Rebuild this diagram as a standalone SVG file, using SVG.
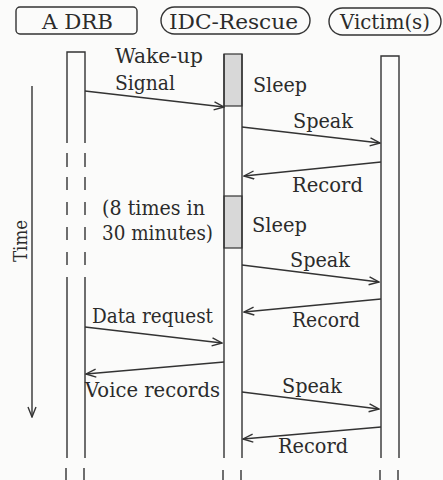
<svg xmlns="http://www.w3.org/2000/svg" width="443" height="480" viewBox="0 0 443 480">
<style>
.t{font-family:"DejaVu Serif","Liberation Serif",serif;font-size:20px;fill:#2b2b2b}
.h{font-family:"DejaVu Serif","Liberation Serif",serif;font-size:21px;fill:#2b2b2b}
.b{fill:none;stroke:#333;stroke-width:1.4}
.l{stroke:#333;stroke-width:1.4;fill:none}
.d{stroke:#333;stroke-width:1.4;fill:none;stroke-dasharray:13 11}
.s{fill:#d8d8d8;stroke:#333;stroke-width:1.2}
.m{stroke:#333;stroke-width:1.4;fill:none;marker-end:url(#ah)}
</style>
<defs>
<marker id="ah" markerUnits="userSpaceOnUse" markerWidth="12" markerHeight="10" refX="11" refY="4.5" orient="auto">
<path d="M1,0.5 L11,4.5 L1,8.5" fill="none" stroke="#333" stroke-width="1.4"/>
</marker>
</defs>
<rect width="443" height="480" fill="#fbfbfa"/>

<g id="adrb">
<rect class="b" x="16" y="7" width="121" height="27" rx="4"/>
<text class="h" x="42" y="29" textLength="71" lengthAdjust="spacingAndGlyphs">A DRB</text>
<path class="l" d="M67,143 V52 H85 V143 M67,277 V458 M85,277 V458"/>
<path class="l" d="M67,153 v14 M67,177 v13 M67,202 v13 M67,227 v13 M67,252 v13 M85,153 v14 M85,177 v13 M85,202 v13 M85,227 v13 M85,252 v13"/>
<path class="l" d="M66,468 v12 M84,468 v12"/>
</g>

<g id="idc">
<rect class="b" x="161" y="7" width="149" height="27" rx="13.5"/>
<text class="h" x="169" y="29" textLength="129" lengthAdjust="spacingAndGlyphs">IDC-Rescue</text>
<rect class="s" x="224" y="54" width="18" height="52"/>
<rect class="s" x="224" y="196" width="18" height="52"/>
<path class="l" d="M224,54 V458 M242,54 V458"/>
<path class="l" d="M223,470 v10 M241,470 v10"/>
</g>

<g id="victim">
<rect class="b" x="329" y="8" width="112" height="27" rx="13.5"/>
<text class="h" x="340" y="29" textLength="90" lengthAdjust="spacingAndGlyphs">Victim(s)</text>
<path class="l" d="M381,458 V56 H399 V458"/>
<path class="l" d="M380,470 v10 M398,470 v10"/>
</g>

<g id="time">
<line class="m" x1="32" y1="86" x2="32" y2="417"/>
<text class="t" font-size="18" transform="translate(27,262) rotate(-90)" textLength="42" lengthAdjust="spacingAndGlyphs" style="font-size:18px">Time</text>
</g>

<g id="connectors">
<line class="m" x1="85" y1="91" x2="224" y2="107"/>
<line class="m" x1="242" y1="127" x2="380" y2="143"/>
<line class="m" x1="381" y1="162" x2="244" y2="176"/>
<line class="m" x1="242" y1="265" x2="379" y2="282"/>
<line class="m" x1="381" y1="299" x2="244" y2="312"/>
<line class="m" x1="85" y1="327" x2="222" y2="343"/>
<line class="m" x1="224" y1="362" x2="86" y2="374"/>
<line class="m" x1="242" y1="392" x2="379" y2="409"/>
<line class="m" x1="381" y1="427" x2="243" y2="439"/>
</g>

<g id="labels">
<text class="t" x="115" y="63" textLength="88" lengthAdjust="spacingAndGlyphs">Wake-up</text>
<text class="t" x="115" y="90" textLength="60" lengthAdjust="spacingAndGlyphs">Signal</text>
<text class="t" x="253" y="92" textLength="54" lengthAdjust="spacingAndGlyphs">Sleep</text>
<text class="t" x="293" y="128" textLength="60" lengthAdjust="spacingAndGlyphs">Speak</text>
<text class="t" x="292" y="192" textLength="71" lengthAdjust="spacingAndGlyphs">Record</text>
<text class="t" x="102" y="215" textLength="103" lengthAdjust="spacingAndGlyphs">(8 times in</text>
<text class="t" x="102" y="240" textLength="111" lengthAdjust="spacingAndGlyphs">30 minutes)</text>
<text class="t" x="252" y="232" textLength="55" lengthAdjust="spacingAndGlyphs">Sleep</text>
<text class="t" x="290" y="267" textLength="60" lengthAdjust="spacingAndGlyphs">Speak</text>
<text class="t" x="292" y="327" textLength="68" lengthAdjust="spacingAndGlyphs">Record</text>
<text class="t" x="92" y="323" textLength="121" lengthAdjust="spacingAndGlyphs">Data request</text>
<text class="t" x="85" y="397" textLength="135" lengthAdjust="spacingAndGlyphs">Voice records</text>
<text class="t" x="282" y="393" textLength="60" lengthAdjust="spacingAndGlyphs">Speak</text>
<text class="t" x="278" y="453" textLength="70" lengthAdjust="spacingAndGlyphs">Record</text>
</g>
</svg>
